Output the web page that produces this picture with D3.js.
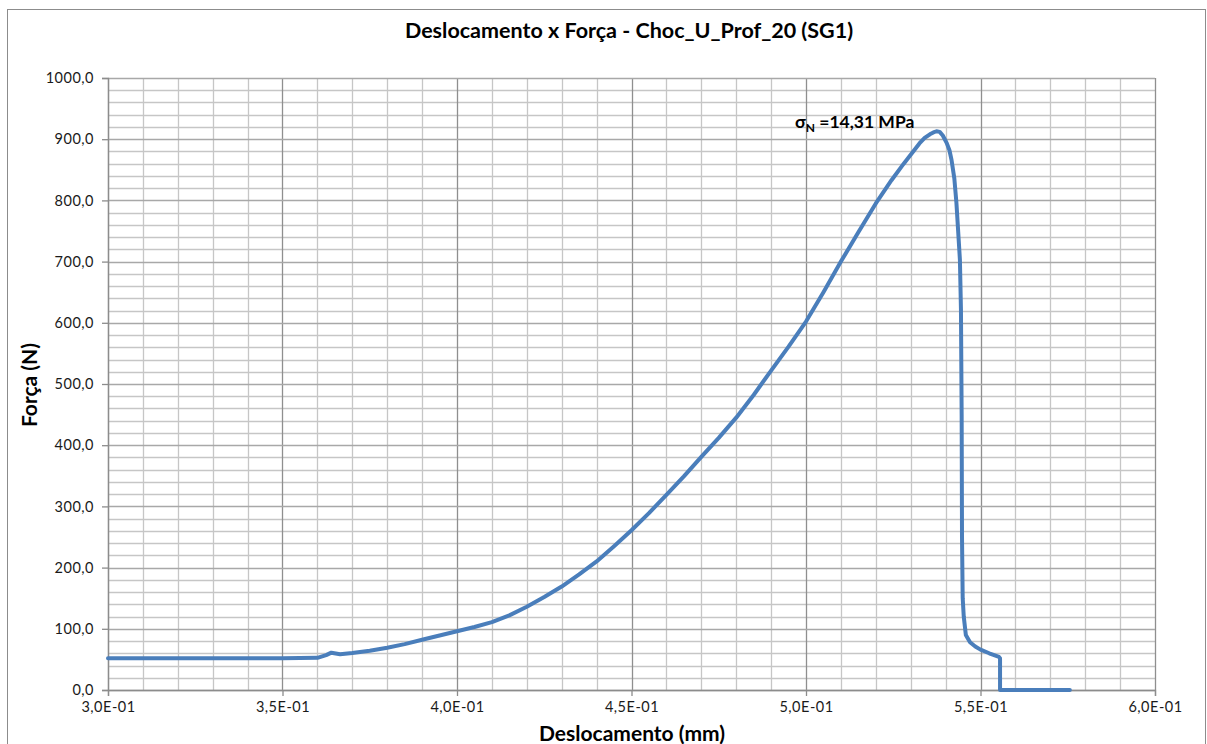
<!DOCTYPE html>
<html><head><meta charset="utf-8">
<script src="https://cdn.jsdelivr.net/npm/d3@7/dist/d3.min.js"></script>
<style>body{margin:0;background:#fff}svg{display:block}</style>
</head><body>
<svg id="chart" width="1207" height="744"></svg>
<script>
// ---- data ----
const displacement = [0.300,0.310,0.320,0.330,0.340,0.350,0.3600,0.3625,0.3640,0.3665,0.3700,0.3750,0.3800,0.3850,0.3900,0.3950,0.4000,0.4050,0.4100,0.4150,0.4200,0.4250,0.4300,0.4350,0.4400,0.4450,0.4500,0.4550,0.4600,0.4650,0.4700,0.4750,0.4800,0.4850,0.4900,0.4950,0.5000,0.5050,0.5100,0.5150,0.5200,0.5245,0.5280,0.5310,0.5325,0.5340,0.5355,0.5365,0.5374,0.5383,0.5392,0.5403,0.5411,0.5417,0.5425,0.5431,0.5441,0.5444,0.5446,0.5447,0.5449,0.5452,0.5458,0.5470,0.5485,0.5500,0.5525,0.5553,0.5556,0.5556,0.5600,0.5700,0.5756];
const force =        [52,52,52,52,52,52,52.5,57,61,58.5,60.5,64,69,75,82,89,96,103,111,122,136,152,169,189,210,235,261,289,319,349,381,412,445,482,522,561,602,650,700,748,795,833,860,882,893,902,908,911,913,912,906,894,882,866,836,796,703,621,450,250,150,120,90,78,71,66,60,54,52,0,0,0,0];
const xTicks = [0.30,0.35,0.40,0.45,0.50,0.55,0.60];
const xTickLabels = ["3,0E-01","3,5E-01","4,0E-01","4,5E-01","5,0E-01","5,5E-01","6,0E-01"];
const xMinor = [0.31,0.32,0.33,0.34,0.36,0.37,0.38,0.39,0.41,0.42,0.43,0.44,0.46,0.47,0.48,0.49,0.51,0.52,0.53,0.54,0.56,0.57,0.58,0.59];
const yTicks = [0,100,200,300,400,500,600,700,800,900,1000];
const yTickLabels = ["0,0","100,0","200,0","300,0","400,0","500,0","600,0","700,0","800,0","900,0","1000,0"];
const yMinor = d3.range(0,1000,20).filter(v => v % 100 !== 0);
const chartTitle = "Deslocamento x Força - Choc_U_Prof_20 (SG1)";
const xTitle = "Deslocamento (mm)";
const yTitle = "Força (N)";
const annotation = {sym:"σ", sub:"N", text:" =14,31 MPa"};

// ---- layout ----
const svg = d3.select("#chart");
const L = 108, R = 1155, T = 78, B = 690;
const FONT = "Lato, 'Open Sans', sans-serif";
const x = d3.scaleLinear().domain([0.30,0.60]).range([L,R]);
const y = d3.scaleLinear().domain([0,1000]).range([B,T]);

// chart border
svg.append("rect").attr("x",7.5).attr("y",9.5).attr("width",1198).attr("height",760)
  .attr("fill","none").attr("stroke","#8c8c8c").attr("stroke-width",1);

// minor gridlines
const g = svg.append("g");
g.selectAll(".vmin").data(xMinor).join("line")
  .attr("x1",d=>Math.round(x(d))+0.5).attr("x2",d=>Math.round(x(d))+0.5).attr("y1",T).attr("y2",B)
  .attr("stroke","#c6c6c6").attr("stroke-width",1.3);
g.selectAll(".hmin").data(yMinor).join("line")
  .attr("y1",d=>Math.round(y(d))+0.5).attr("y2",d=>Math.round(y(d))+0.5).attr("x1",L).attr("x2",R)
  .attr("stroke","#c6c6c6").attr("stroke-width",1.3);
// major gridlines
g.selectAll(".vmaj").data(xTicks).join("line")
  .attr("x1",d=>Math.round(x(d))+0.5).attr("x2",d=>Math.round(x(d))+0.5).attr("y1",T).attr("y2",B)
  .attr("stroke","#8f8f8f").attr("stroke-width",1.3);
g.selectAll(".hmaj").data(yTicks).join("line")
  .attr("y1",d=>Math.round(y(d))+0.5).attr("y2",d=>Math.round(y(d))+0.5).attr("x1",L).attr("x2",R)
  .attr("stroke","#a8a8a8").attr("stroke-width",1.3);

// axes
const xAxis = d3.axisBottom(x).tickValues(xTicks).tickFormat((d,i)=>xTickLabels[i]).tickSize(6).tickPadding(6);
const yAxis = d3.axisLeft(y).tickValues(yTicks).tickFormat((d,i)=>yTickLabels[i]).tickSize(6).tickPadding(8);
const gx = svg.append("g").attr("transform",`translate(0,${B})`).call(xAxis);
const gy = svg.append("g").attr("transform",`translate(${L},0)`).call(yAxis);
[gx,gy].forEach(a=>{
  a.select(".domain").attr("stroke","#8c8c8c").attr("stroke-width",1.3);
  a.selectAll(".tick line").attr("stroke","#8c8c8c").attr("stroke-width",1.3);
  a.selectAll(".tick text").attr("fill","#1a1a1a").style("font-family",FONT).style("font-size","14.5px").style("letter-spacing","0.5px");
});

// data line
const pts = displacement.map((d,i)=>[d,force[i]]);
svg.append("path").datum(pts)
  .attr("fill","none").attr("stroke","#4a7ebb").attr("stroke-width",4)
  .attr("stroke-linejoin","round").attr("stroke-linecap","round")
  .attr("d", d3.line().x(d=>x(d[0])).y(d=>y(d[1])).curve(d3.curveLinear));

// titles
svg.append("text").attr("x",629).attr("y",38).attr("text-anchor","middle")
  .style("font-family",FONT).style("font-weight","bold").style("font-size","21.5px").attr("fill","#000")
  .text(chartTitle);
svg.append("text").attr("x",632).attr("y",741).attr("text-anchor","middle")
  .style("font-family",FONT).style("font-weight","bold").style("font-size","21px").attr("fill","#000")
  .text(xTitle);
svg.append("text").attr("transform","translate(37,385) rotate(-90)").attr("text-anchor","middle")
  .style("font-family",FONT).style("font-weight","bold").style("font-size","21px").attr("fill","#000")
  .text(yTitle);

// annotation
const ann = svg.append("text").attr("x",795).attr("y",128)
  .style("font-family",FONT).style("font-weight","bold").style("font-size","17.5px").attr("fill","#000");
ann.append("tspan").text(annotation.sym);
ann.append("tspan").attr("dy",4).style("font-size","12px").text(annotation.sub);
ann.append("tspan").attr("dy",-4).text(annotation.text);
</script>
</body></html>
